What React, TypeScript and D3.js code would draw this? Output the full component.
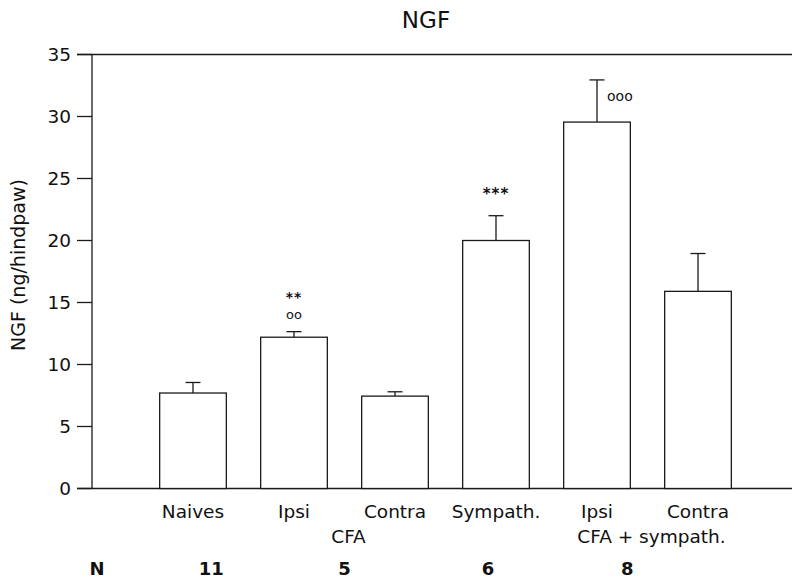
import React from "react";
import * as d3 from "d3";

// Group keys, their axis labels and measured NGF content (mean and SEM)
const groupKeys = ["naive", "cfaIpsi", "cfaContra", "symp", "cfaSympIpsi", "cfaSympContra"];
const groupLabels = ["Naives", "Ipsi", "Contra", "Sympath.", "Ipsi", "Contra"];
const meanValues = [7.7, 12.2, 7.45, 20.0, 29.55, 15.9];
const semValues = [0.85, 0.45, 0.35, 2.0, 3.4, 3.05];

// Significance marks: stars (vs naive) and circles (vs contralateral)
const starMarks = ["", "**", "", "***", "", ""];
const circleMarks = ["", "oo", "", "", "ooo", ""];

// Treatment groups spanning two bars
const treatmentNames = ["CFA", "CFA + sympath."];
const treatmentSpans = [[1, 2], [4, 5]];

// Number of animals, placed at fractional category positions
const nCounts = ["11", "5", "6", "8"];
const nPositions = [0.18, 1.5, 2.92, 4.3];

const yTicks = [0, 5, 10, 15, 20, 25, 30, 35];

const W = 794;
const H = 587;
const FONT = "'DejaVu Sans', 'Open Sans', sans-serif";

export default function App() {
  const left = 92;
  const right = 792;
  const top = 54.5;
  const bottom = 488.5;

  const y = d3.scaleLinear().domain([0, 35]).range([bottom, top]);
  const x = d3
    .scaleBand<string>()
    .domain(groupKeys)
    .range([142.5, 748.5])
    .paddingInner(0.34)
    .paddingOuter(0.17);
  const bw = x.bandwidth();
  const cx = (i: number) => (x(groupKeys[i]) as number) + bw / 2;
  const idx = d3.scaleLinear().domain([0, 1]).range([cx(0), cx(1)]);
  const capHalf = 7.5;
  const stroke = "#1a1a1a";

  return (
    <div style={{ position: "absolute", left: 0, top: 0 }}>
      <svg width={W} height={H} style={{ display: "block", background: "#fff" }}>
        <text x={426} y={28} textAnchor="middle" fontFamily={FONT} fontSize={23} fill="#111">
          NGF
        </text>

        {/* frame: top line, y axis, x axis */}
        <line x1={left - 15} x2={right} y1={top} y2={top} stroke={stroke} strokeWidth={1.3} />
        <line x1={left} x2={left} y1={top} y2={bottom} stroke={stroke} strokeWidth={1.3} />
        <line x1={left - 15} x2={right} y1={bottom} y2={bottom} stroke={stroke} strokeWidth={1.3} />

        {yTicks.map((t) => (
          <g key={t}>
            <line x1={left - 15} x2={left} y1={y(t)} y2={y(t)} stroke={stroke} strokeWidth={1.3} />
            <text
              x={71}
              y={y(t)}
              dy="0.36em"
              textAnchor="end"
              fontFamily={FONT}
              fontSize={18.5}
              fill="#111"
            >
              {t}
            </text>
          </g>
        ))}

        <text
          transform={`translate(18,265) rotate(-90)`}
          textAnchor="middle"
          dy="0.36em"
          fontFamily={FONT}
          fontSize={19}
          fill="#111"
        >
          NGF (ng/hindpaw)
        </text>

        {groupKeys.map((k, i) => {
          const x0 = x(k) as number;
          const c = cx(i);
          const yTop = y(meanValues[i]);
          const yErr = y(meanValues[i] + semValues[i]);
          return (
            <g key={k}>
              <line x1={c} x2={c} y1={yTop} y2={yErr} stroke={stroke} strokeWidth={1.3} />
              <line x1={c - capHalf} x2={c + capHalf} y1={yErr} y2={yErr} stroke={stroke} strokeWidth={1.3} />
              <rect
                x={x0}
                y={yTop}
                width={bw}
                height={bottom - yTop}
                fill="#fff"
                stroke={stroke}
                strokeWidth={1.3}
              />
              <text
                x={c}
                y={518}
                textAnchor="middle"
                fontFamily={FONT}
                fontSize={18.5}
                fill="#111"
              >
                {groupLabels[i]}
              </text>
              {starMarks[i] && (
                <text
                  x={c}
                  y={yErr - (circleMarks[i] ? 29.5 : 17)}
                  textAnchor="middle"
                  fontFamily={FONT}
                  fontSize={circleMarks[i] ? 14 : 15}
                  fontWeight="bold"
                  letterSpacing={1}
                  fill="#111"
                >
                  {starMarks[i]}
                </text>
              )}
              {circleMarks[i] && (
                <text
                  x={starMarks[i] ? c : c + 10}
                  y={starMarks[i] ? yErr - 12.5 : yErr + 21}
                  textAnchor={starMarks[i] ? "middle" : "start"}
                  fontFamily={FONT}
                  fontSize={starMarks[i] ? 13 : 14}
                  fill="#111"
                >
                  {circleMarks[i]}
                </text>
              )}
            </g>
          );
        })}

        {treatmentNames.map((name, j) => {
          const [a, b] = treatmentSpans[j];
          return (
            <text
              key={name}
              x={(cx(a) + cx(b)) / 2 + 4}
              y={543}
              textAnchor="middle"
              fontFamily={FONT}
              fontSize={18.5}
              fill="#111"
            >
              {name}
            </text>
          );
        })}

        <text x={97} y={575} textAnchor="middle" fontFamily={FONT} fontSize={18} fontWeight="bold" fill="#111">
          N
        </text>
        {nCounts.map((n, j) => (
          <text
            key={j}
            x={idx(nPositions[j])}
            y={575}
            textAnchor="middle"
            fontFamily={FONT}
            fontSize={18}
            fontWeight="bold"
            fill="#111"
          >
            {n}
          </text>
        ))}
      </svg>
    </div>
  );
}
